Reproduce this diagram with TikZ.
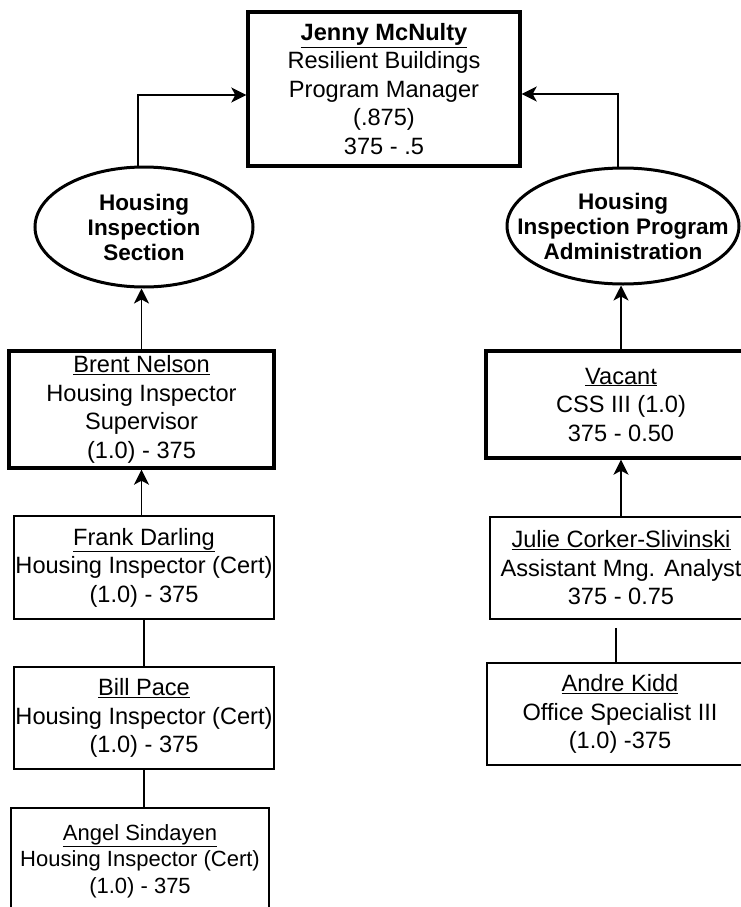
\documentclass[tikz,border=0pt]{standalone}
\usepackage{fontspec}
\setmainfont{Liberation Sans}
\usetikzlibrary{positioning, arrows.meta, shapes.geometric, calc}
\tikzset{
  lead/.style={
    draw=black, line width=3.4pt,
    rectangle, align=center, inner sep=0pt,
    font=\fontsize{23.6}{28.5}\selectfont,
  },
  staff/.style={lead, line width=1.8pt},
  unit/.style={
    draw=black, line width=3pt,
    ellipse, align=center, inner xsep=-30pt, inner ysep=-10pt,
    font=\fontsize{22.5}{25}\selectfont\bfseries,
  },
  rep/.style={draw=black, line width=1.8pt, -{Stealth[length=15pt, width=15pt, inset=4pt]}},
  link/.style={draw=black, line width=1.8pt},
}
\newcommand{\pn}[1]{\underline{#1}}

\begin{document}
\begin{tikzpicture}[x=1pt, y=-1pt]
\useasboundingbox (0,0) rectangle (741,907);

% manager
\node[lead, minimum width=272pt, minimum height=154pt] (jenny) at (384,89)
  {\textbf{\pn{Jenny McNulty}}\\Resilient Buildings\\Program Manager\\(.875)\\375 - .5};

% sections
\node[unit, minimum width=218pt, minimum height=120pt] (hisec) at (144,227)
  {Housing\\Inspection\\Section};
\node[unit, minimum width=232pt, minimum height=116pt] (hipa) at (623,226)
  {Housing\\Inspection Program\\Administration};

% left column
\node[lead, minimum width=265pt, minimum height=117pt] (brent) at (141.5,409.5)
  {\pn{Brent Nelson}\\Housing Inspector\\Supervisor\\(1.0) - 375};
\node[staff, minimum width=260pt, minimum height=103pt] (frank) at (144,567.5)
  {\pn{Frank Darling}\\Housing Inspector (Cert)\\(1.0) - 375};
\node[staff, minimum width=260pt, minimum height=102pt] (bill) at (144,718)
  {\pn{Bill Pace}\\Housing Inspector (Cert)\\(1.0) - 375};
\node[staff, minimum width=258pt, minimum height=106pt,
      font=\fontsize{22}{26.5}\selectfont] (angel) at (140,861)
  {\pn{Angel Sindayen}\\Housing Inspector (Cert)\\(1.0) - 375};

% right column
\node[lead, minimum width=270pt, minimum height=107pt] (vacant) at (621,404.5)
  {\pn{Vacant}\\CSS III (1.0)\\375 - 0.50};
\node[staff, minimum width=262pt, minimum height=102pt] (julie) at (621,568)
  {\pn{Julie Corker-Slivinski}\\Assistant Mng. Analyst\\375 - 0.75};
\node[staff, minimum width=266pt, minimum height=102pt] (andre) at (620,714)
  {\pn{Andre Kidd}\\Office Specialist III\\(1.0) -375};

% reporting lines
\draw[rep] ([xshift=-6pt]hisec.north) |- ([yshift=-6pt]jenny.west);
\draw[rep] ([xshift=-5pt]hipa.north) |- ([yshift=-5pt]jenny.east);
\draw[rep] (brent.north) -- (brent.north |- hisec.south);
\draw[rep] (frank.north -| brent.south) -- (brent.south);
\draw[link] (frank) -- (bill);
\draw[link] (bill.south) -- (bill.south |- angel.north);
\draw[rep] (vacant.north) -- (vacant.north |- hipa.south);
\draw[rep] (julie) -- (vacant);
\draw[link, shorten <=8pt] ([xshift=-4pt]andre.north |- julie.south) -- ([xshift=-4pt]andre.north);

\end{tikzpicture}
\end{document}
